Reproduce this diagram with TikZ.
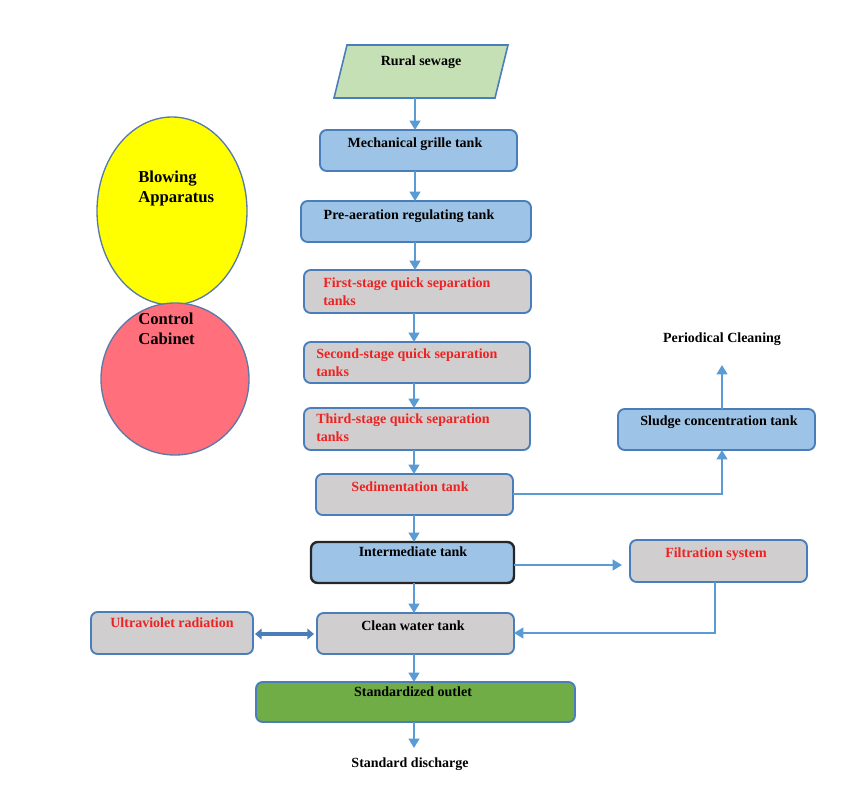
\documentclass[tikz,border=0pt]{standalone}
\usepackage{fontspec}
\setmainfont{Liberation Serif}
\usetikzlibrary{arrows.meta,shapes.geometric,calc}
\definecolor{bfill}{HTML}{9DC3E6}
\definecolor{bdraw}{HTML}{4A7EBB}
\definecolor{gfill}{HTML}{D0CECE}
\definecolor{lgreen}{HTML}{C5E0B4}
\definecolor{dgreen}{HTML}{70AD47}
\definecolor{arrc}{HTML}{5B9BD5}
\definecolor{redt}{HTML}{EE2222}
\definecolor{pinkc}{HTML}{FF6F7C}
\definecolor{ydraw}{HTML}{5A7AA8}
\definecolor{yfill}{HTML}{FFFF00}
\newcommand\mybox[6]{\node[#1, minimum width={(#4-#2)*0.75pt}, minimum height={(#5-#3)*0.75pt}] (#6) at ({(#2+#4)/2},{(#3+#5)/2}) {};}
\tikzset{
  base/.style={draw=bdraw, line width=1.4pt, rounded corners=5pt, inner sep=0pt, outer sep=0pt},
  bluebox/.style={base, fill=bfill},
  greybox/.style={base, fill=gfill},
  txt/.style={font=\bfseries\fontsize{10.5}{12.8}\selectfont, inner sep=0pt, anchor=mid, text=black},
  bigtxt/.style={font=\bfseries\fontsize{12.5}{15}\selectfont, inner sep=0pt, align=left, anchor=north west, text=black},
  redtxt/.style={txt, text=redt},
  mltxt/.style={txt, text=redt, align=left, anchor=north west},
  arr/.style={draw=arrc, line width=1.5pt, -{Triangle[length=7pt,width=8pt]}},
  lin/.style={draw=arrc, line width=1.5pt},
  darr/.style={draw=bdraw, line width=2.6pt, {Triangle[length=5pt,width=8pt]}-{Triangle[length=5pt,width=8pt]}}
}
\begin{document}
\begin{tikzpicture}[x=0.75pt,y=-0.75pt]
\useasboundingbox (0,0) rectangle (864,796);
% start parallelogram
\path[draw=bdraw, line width=1.2pt, fill=lgreen] (347,45) -- (508,45) -- (495,98) -- (334,98) -- cycle;
\coordinate (rsb) at (415,98);
\node[txt] (rst) at (421,62) {Rural sewage};
% column boxes
\mybox{bluebox}{320}{130}{517}{171}{mgt}
\node[txt] (mgtt) at (415,144) {Mechanical grille tank};
\mybox{bluebox}{301}{201}{531}{242}{pat}
\node[txt] (patt) at (409,216) {Pre-aeration regulating tank};
\mybox{greybox}{304}{270}{531}{313}{fs}
\node[mltxt] (fst) at (323,278) {First-stage quick separation\\tanks};
\mybox{greybox}{304}{342}{530}{383}{ss}
\node[mltxt] (sst) at (316,349) {Second-stage quick separation\\tanks};
\mybox{greybox}{304}{408}{530}{450}{ts}
\node[mltxt] (tst) at (316,414) {Third-stage quick separation\\tanks};
\mybox{greybox}{316}{474}{513}{515}{sed}
\node[redtxt] (sedt) at (410,488) {Sedimentation tank};
\mybox{bluebox,draw=black!85,line width=1.8pt}{311}{542}{514}{583}{int}
\node[txt] (intt) at (413,553) {Intermediate tank};
\mybox{greybox}{630}{540}{807}{582}{fil}
\node[redtxt] (filt) at (716,554) {Filtration system};
\mybox{greybox}{317}{613}{514}{654}{cw}
\node[txt] (cwt) at (413,627) {Clean water tank};
\mybox{greybox}{91}{612}{253}{654}{uv}
\node[redtxt] (uvt) at (172,624) {Ultraviolet radiation};
\mybox{base,fill=dgreen}{256}{682}{575}{722}{so}
\node[txt] (sot) at (413,693) {Standardized outlet};
\node[txt] (sd) at (410,764) {Standard discharge};
\mybox{bluebox}{618}{409}{815}{450}{sl}
\node[txt] (slt) at (719,422) {Sludge concentration tank};
\node[txt] (pc) at (722,339) {Periodical Cleaning};
% ellipses
\node[draw=ydraw, line width=1pt, fill=yfill, ellipse, minimum width={150*0.75pt}, minimum height={188*0.75pt}, inner sep=0pt] (blow) at (172,211) {};
\node[draw=ydraw, line width=1pt, fill=pinkc, ellipse, minimum width={148*0.75pt}, minimum height={152*0.75pt}, inner sep=0pt] (ctrl) at (175,379) {};
\node[bigtxt] (blowt) at (138,171) {Blowing\\Apparatus};
\node[bigtxt] (ctrlt) at (138,313) {Control\\Cabinet};
% column arrows
\coordinate (colx) at (414,0);
\draw[arr] (rsb) -- (mgt.north -| rsb);
\draw[arr] (mgt.south -| rsb) -- (pat.north -| rsb);
\draw[arr] (pat.south -| rsb) -- (fs.north -| rsb);
\draw[arr] (fs.south -| colx) -- (ss.north -| colx);
\draw[arr] (ss.south -| colx) -- (ts.north -| colx);
\draw[arr] (ts.south -| colx) -- (sed.north -| colx);
\draw[arr] (sed.south -| colx) -- (int.north -| colx);
\draw[arr] (int.south -| colx) -- (cw.north -| colx);
\draw[arr] (cw.south -| colx) -- (so.north -| colx);
\coordinate (sdtop) at (414,748);
\draw[arr] (so.south -| colx) -- (sdtop);
% side connections
\coordinate (slx) at (722,0);
\coordinate (sedy) at (0,494);
\draw[arr] (sed.east |- sedy) -- (sedy -| slx) -- (sl.south -| slx);
\coordinate (pcb) at (722,365);
\draw[arr] (sl.north -| slx) -- (pcb);
\coordinate (inty) at (0,565);
\coordinate (filin) at (622,565);
\draw[arr] (int.east |- inty) -- (filin);
\coordinate (filx) at (715,0);
\coordinate (cwy) at (0,633);
\draw[arr] (fil.south -| filx) -- (cwy -| filx) -- (cw.east |- cwy);
\coordinate (uvr) at (255,634);
\coordinate (cwl) at (314,634);
\draw[darr] (uvr) -- (cwl);
\end{tikzpicture}
\end{document}
